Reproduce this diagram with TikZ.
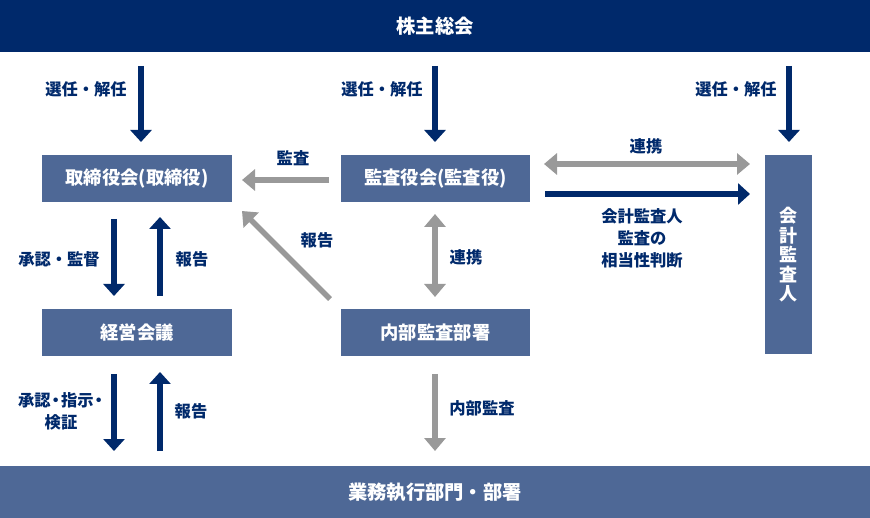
\documentclass[tikz,border=0pt]{standalone}
\usepackage{fontspec}
\setmainfont{Noto Sans CJK JP}
\usetikzlibrary{arrows.meta}
\definecolor{navy}{RGB}{0,41,107}
\definecolor{boxblue}{RGB}{78,104,150}
\definecolor{arrgray}{RGB}{153,153,153}
\newcommand{\ndot}{\kern-3pt・\kern-3pt}
\tikzset{
  box/.style={fill=boxblue, text=white, inner sep=0pt, font=\fontsize{18.3}{20}\selectfont\bfseries},
  bar/.style={fill=navy, text=white, inner sep=0pt, font=\fontsize{19.3}{22}\selectfont\bfseries},
  lbl/.style={text=navy, inner sep=0pt, align=center, font=\fontsize{16.3}{22}\selectfont\bfseries},
  navyarr/.style={draw=navy, line width=5.5pt, -{Triangle[width=21pt,length=12pt]}},
  grayarr/.style={draw=arrgray, line width=5.5pt, -{Triangle[width=21pt,length=13pt]}},
  graydbl/.style={draw=arrgray, line width=5.5pt, {Triangle[width=21pt,length=13pt]}-{Triangle[width=21pt,length=13pt]}},
}
\begin{document}
\begin{tikzpicture}[x=1pt,y=-1pt]
\useasboundingbox (0,0) rectangle (870,518);
% bars
\node[bar, minimum width=870pt, minimum height=52pt] (gm) at (435,26) {株主総会};
\node[box, minimum width=870pt, minimum height=52pt, font=\fontsize{19.3}{22}\selectfont\bfseries] (ops) at (435,492) {業務執行部門・部署};
% boxes
\node[box, minimum width=190pt, minimum height=47pt] (tor) at (137,178.5) {取締役会(取締役)};
\node[box, minimum width=189pt, minimum height=47pt] (kan) at (435.5,178.5) {監査役会(監査役)};
\node[box, minimum width=190pt, minimum height=47pt] (kei) at (137,332.5) {経営会議};
\node[box, minimum width=189pt, minimum height=47pt] (nai) at (435.5,332.5) {内部監査部署};
\node[box, minimum width=47pt, minimum height=199pt, align=center,
      font=\fontsize{18}{19.5}\selectfont\bfseries] (kai) at (788.5,255) {会\\計\\監\\査\\人};
% coordinates
\coordinate (a1s) at (141,66);   \coordinate (a1e) at (141,142);
\coordinate (a2s) at (435,66);   \coordinate (a2e) at (435,142);
\coordinate (a3s) at (789,66);   \coordinate (a3e) at (789,142);
\coordinate (k1s) at (329,180);  \coordinate (k1e) at (242,180);
\coordinate (r1s) at (330,299);  \coordinate (r1e) at (242,211);
\coordinate (v1s) at (435,214);  \coordinate (v1e) at (435,297);
\coordinate (h1s) at (544,164);  \coordinate (h1e) at (750,164);
\coordinate (h2s) at (545,194);  \coordinate (h2e) at (750,194);
\coordinate (l1s) at (114,219);  \coordinate (l1e) at (114,296);
\coordinate (l2s) at (160,296);  \coordinate (l2e) at (160,217);
\coordinate (l3s) at (114,374);  \coordinate (l3e) at (114,451);
\coordinate (l4s) at (160,451);  \coordinate (l4e) at (160,372);
\coordinate (i1s) at (435,374);  \coordinate (i1e) at (435,451);
% arrows
\draw[navyarr] (a1s) -- (a1e);
\draw[navyarr] (a2s) -- (a2e);
\draw[navyarr] (a3s) -- (a3e);
\draw[grayarr] (k1s) -- (k1e);
\draw[grayarr] (r1s) -- (r1e);
\draw[graydbl] (v1s) -- (v1e);
\draw[graydbl] (h1s) -- (h1e);
\draw[navyarr] (h2s) -- (h2e);
\draw[navyarr] (l1s) -- (l1e);
\draw[navyarr] (l2s) -- (l2e);
\draw[navyarr] (l3s) -- (l3e);
\draw[navyarr] (l4s) -- (l4e);
\draw[grayarr] (i1s) -- (i1e);
% labels
\node[lbl] (t1) at (86,89) {選任・解任};
\node[lbl] (t2) at (382,89) {選任・解任};
\node[lbl] (t3) at (736,89) {選任・解任};
\node[lbl] (t4) at (293,158) {監査};
\node[lbl] (t5) at (317,240) {報告};
\node[lbl] (t6) at (466,257) {連携};
\node[lbl] (t7) at (646,146) {連携};
\node[lbl] (t8) at (642,238) {会計監査人\\監査の\\相当性判断};
\node[lbl] (t9) at (59,259) {承認・監督};
\node[lbl] (t10) at (192,259) {報告};
\node[lbl] (t11) at (61,411) {承認\ndot 指示\ndot\\検証};
\node[lbl] (t12) at (191,411) {報告};
\node[lbl] (t13) at (482,408) {内部監査};
\end{tikzpicture}
\end{document}
